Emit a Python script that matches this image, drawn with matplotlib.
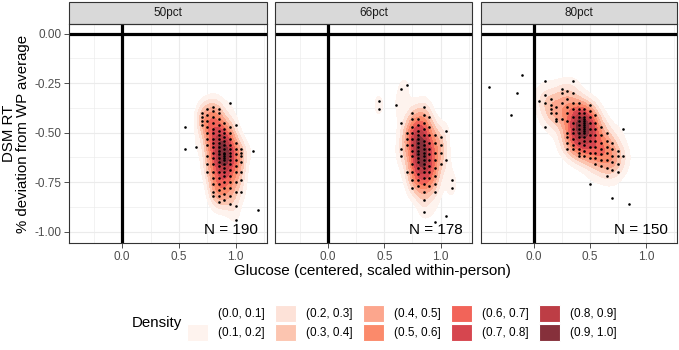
import numpy as np
import matplotlib
matplotlib.use('Agg')
import matplotlib.pyplot as plt
from matplotlib.patches import Patch, Rectangle

plt.rcParams['font.family'] = ['Liberation Sans', 'DejaVu Sans']
plt.rcParams['axes.unicode_minus'] = False

# glucose value -> RT deviations
cols_50 = {
    0.55: [-0.47, -0.58],
    0.65: [-0.57],
    0.70: [-0.40, -0.42, -0.44, -0.46],
    0.75: [-0.38, -0.41, -0.44, -0.47, -0.50, -0.53, -0.56, -0.62, -0.66, -0.70],
    0.80: [-0.37, -0.39, -0.42, -0.45, -0.48, -0.50, -0.53, -0.55, -0.57, -0.60,
           -0.63, -0.66, -0.70, -0.73, -0.76, -0.80, -0.82],
    0.85: [-0.38, -0.40, -0.43, -0.46, -0.49, -0.51, -0.53, -0.55, -0.57, -0.59,
           -0.61, -0.63, -0.65, -0.67, -0.70, -0.73, -0.76, -0.79, -0.82, -0.85],
    0.90: [-0.45, -0.48, -0.50, -0.52, -0.54, -0.56, -0.58, -0.60, -0.61, -0.62,
           -0.63, -0.64, -0.66, -0.68, -0.70, -0.72, -0.75, -0.78, -0.81, -0.84],
    0.95: [-0.35, -0.47, -0.50, -0.53, -0.56, -0.58, -0.60, -0.62, -0.64, -0.66,
           -0.69, -0.72, -0.75, -0.78, -0.82, -0.86],
    1.00: [-0.46, -0.55, -0.58, -0.61, -0.64, -0.67, -0.70, -0.75, -0.80, -0.87, -0.94],
    1.05: [-0.58, -0.60, -0.62, -0.65, -0.70, -0.74, -0.80],
    1.15: [-0.59],
    1.20: [-0.89],
}
cols_66 = {
    0.45: [-0.34, -0.38],
    0.60: [-0.36],
    0.65: [-0.28, -0.45, -0.58, -0.62],
    0.70: [-0.26, -0.50, -0.53, -0.56, -0.70],
    0.75: [-0.40, -0.43, -0.47, -0.50, -0.53, -0.56, -0.59, -0.62, -0.66, -0.70, -0.74, -0.78],
    0.80: [-0.43, -0.46, -0.49, -0.51, -0.53, -0.55, -0.57, -0.59, -0.61, -0.63,
           -0.65, -0.68, -0.71, -0.74, -0.77],
    0.85: [-0.37, -0.41, -0.45, -0.48, -0.51, -0.54, -0.56, -0.58, -0.60, -0.62,
           -0.64, -0.66, -0.68, -0.70, -0.73, -0.76, -0.80, -0.84, -0.90],
    0.90: [-0.42, -0.47, -0.51, -0.55, -0.58, -0.61, -0.64, -0.67, -0.70, -0.73, -0.77],
    0.95: [-0.51, -0.55, -0.60, -0.64, -0.68, -0.72, -0.76, -0.80, -0.95],
    1.00: [-0.52, -0.56, -0.60, -0.66],
    1.05: [-0.49, -0.64, -0.92],
    1.10: [-0.74, -0.78],
}
cols_80 = {
    -0.40: [-0.27],
    -0.20: [-0.41],
    -0.15: [-0.30],
    -0.10: [-0.21],
    0.05: [-0.34],
    0.10: [-0.24, -0.31, -0.35, -0.47],
    0.15: [-0.33, -0.36, -0.38, -0.40],
    0.20: [-0.37, -0.40, -0.43, -0.44],
    0.25: [-0.28, -0.30, -0.35, -0.43],
    0.30: [-0.29, -0.33, -0.37, -0.40, -0.44, -0.50, -0.52, -0.55, -0.58],
    0.35: [-0.24, -0.30, -0.35, -0.38, -0.42, -0.45, -0.48, -0.50, -0.53, -0.56, -0.58],
    0.40: [-0.35, -0.38, -0.40, -0.42, -0.44, -0.46, -0.48, -0.50, -0.52, -0.55,
           -0.58, -0.60, -0.62],
    0.45: [-0.38, -0.40, -0.42, -0.43, -0.44, -0.45, -0.46, -0.47, -0.48, -0.49,
           -0.50, -0.52, -0.54, -0.56, -0.59, -0.62],
    0.50: [-0.36, -0.39, -0.42, -0.45, -0.48, -0.51, -0.54, -0.57, -0.60, -0.63, -0.76],
    0.55: [-0.41, -0.45, -0.48, -0.51, -0.54, -0.57, -0.60, -0.63, -0.66],
    0.60: [-0.47, -0.51, -0.55, -0.58, -0.61, -0.64, -0.67],
    0.65: [-0.50, -0.54, -0.57, -0.60, -0.64, -0.68, -0.72],
    0.70: [-0.55, -0.58, -0.62, -0.65, -0.69, -0.83],
    0.75: [-0.59, -0.62, -0.66, -0.70],
    0.80: [-0.48, -0.62],
    0.85: [-0.86],
}

panels = ['50pct', '66pct', '80pct']
panel_n = [190, 178, 150]
panel_cols = [cols_50, cols_66, cols_80]

density_labels = ['(0.0, 0.1]', '(0.1, 0.2]', '(0.2, 0.3]', '(0.3, 0.4]', '(0.4, 0.5]',
                  '(0.5, 0.6]', '(0.6, 0.7]', '(0.7, 0.8]', '(0.8, 0.9]', '(0.9, 1.0]']
density_colors = ['#FFFFFF', '#FEF3EE', '#FDE2D8', '#FCC5B0', '#FCA68D',
                  '#FB8A6B', '#F26459', '#D6464F', '#BD3D45', '#86303B']
levels = [0.1, 0.2, 0.3, 0.4, 0.5, 0.6, 0.7, 0.8, 0.9, 1.0001]


def expand(cols):
    xs, ys = [], []
    for gx, vals in cols.items():
        for v in vals:
            xs.append(gx)
            ys.append(v)
    return np.array(xs), np.array(ys)


def bw_nrd(v):
    q75, q25 = np.percentile(v, [75, 25])
    return 4 * 1.06 * min(np.std(v, ddof=1), (q75 - q25) / 1.34) * len(v) ** (-0.2)


def kde2d(x, y, gx, gy):
    hx = bw_nrd(x) / 4
    hy = bw_nrd(y) / 4
    kx = np.exp(-0.5 * ((gx[:, None] - x[None, :]) / hx) ** 2)
    ky = np.exp(-0.5 * ((gy[:, None] - y[None, :]) / hy) ** 2)
    z = ky @ kx.T
    return z / z.max()


data = [expand(c) for c in panel_cols]
all_x = np.concatenate([d[0] for d in data])
all_y = np.concatenate([d[1] for d in data])
grid_x = np.linspace(all_x.min(), all_x.max(), 200)
grid_y = np.linspace(all_y.min(), all_y.max(), 200)

W, H = 679, 350
fig = plt.figure(figsize=(W / 100, H / 100), dpi=100)
panel_px = [(69, 267), (275, 472), (481, 677)]
top, bot = 24, 243
strip_h = 22 / (bot - top)

for i, (name, n) in enumerate(zip(panels, panel_n)):
    l, r = panel_px[i]
    ax = fig.add_axes([l / W, 1 - bot / H, (r - l) / W, (bot - top) / H])
    px, py = data[i]

    z = kde2d(px, py, grid_x, grid_y)
    ax.contourf(grid_x, grid_y, z, levels=levels, colors=density_colors[1:], zorder=1)
    ax.scatter(px, py, s=3.5, c='black', linewidths=0, zorder=3)
    ax.axhline(0, color='black', lw=2.3, zorder=2.5)
    ax.axvline(0, color='black', lw=2.3, zorder=2.5)
    ax.text(1.2, -0.99, f'N = {n}', ha='right', va='center', fontsize=11,
            family=['Liberation Sans Narrow', 'Liberation Sans'], zorder=4)

    ax.set_xlim(-0.47, 1.278)
    ax.set_ylim(-1.057, 0.049)
    ax.set_xticks([0.0, 0.5, 1.0])
    ax.set_xticklabels(['0.0', '0.5', '1.0'])
    ax.set_xticks([-0.25, 0.25, 0.75, 1.25], minor=True)
    ax.set_yticks([0.0, -0.25, -0.5, -0.75, -1.0])
    ax.set_yticks([-0.125, -0.375, -0.625, -0.875], minor=True)
    if i == 0:
        ax.set_yticklabels(['0.00', '-0.25', '-0.50', '-0.75', '-1.00'])
        ax.tick_params(axis='y', which='major', length=3.5, width=0.6, color='#333333',
                       labelsize=8.5, labelcolor='#4D4D4D', pad=2)
    else:
        ax.tick_params(axis='y', which='major', length=0, labelleft=False)
    ax.tick_params(axis='x', which='major', length=3.5, width=0.6, color='#333333',
                   labelsize=8.5, labelcolor='#4D4D4D', pad=2)
    ax.tick_params(which='minor', length=0)
    ax.grid(which='major', color='#EBEBEB', lw=0.8)
    ax.grid(which='minor', color='#EBEBEB', lw=0.45)
    ax.set_axisbelow(True)
    for s in ax.spines.values():
        s.set_color('#333333')
        s.set_linewidth(0.8)

    ax.add_patch(Rectangle((0, 1), 1, strip_h, transform=ax.transAxes, facecolor='#D9D9D9',
                           edgecolor='#333333', lw=0.8, clip_on=False))
    ax.text(0.5, 1 + strip_h / 2, name, transform=ax.transAxes, ha='center', va='center',
            fontsize=8.5, color='#1A1A1A')

fig.text(16 / W, 1 - (top + bot) / 2 / H, 'DSM RT\n% deviation from WP average',
         rotation=90, ha='center', va='center', multialignment='center', fontsize=10.8,
         linespacing=1.05)
fig.text(372.5 / W, 1 - 271 / H, 'Glucose (centered, scaled within-person)',
         ha='center', va='center', fontsize=11)

handles = [Patch(facecolor=c, edgecolor='white', lw=0.8) for c in density_colors]
fig.legend(handles, density_labels, ncol=5, loc='center', frameon=False,
           bbox_to_anchor=(402 / W, 1 - 323 / H), fontsize=8.5, handlelength=1.8,
           handleheight=1.8, handletextpad=0.85, columnspacing=0.85, labelspacing=0.18,
           borderpad=0, borderaxespad=0)
fig.text(132 / W, 1 - 323 / H, 'Density', ha='left', va='center', fontsize=10.8)

fig.savefig('out.png', dpi=100)
